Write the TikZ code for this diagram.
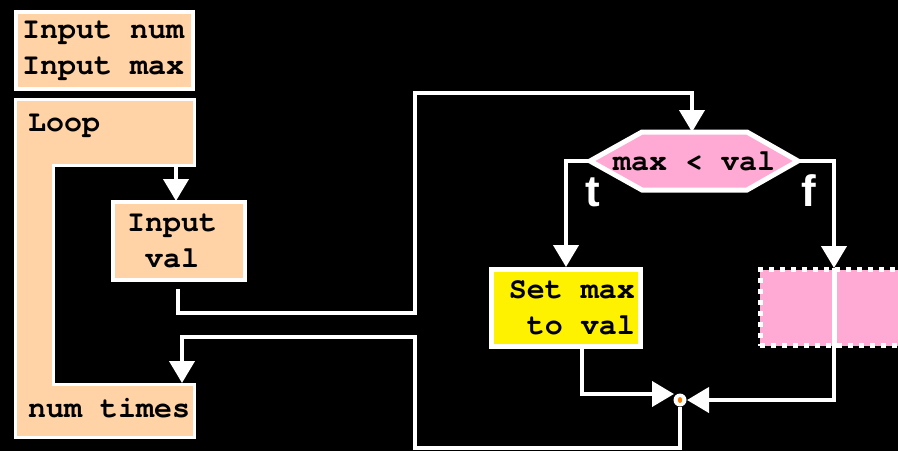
\documentclass[tikz,border=0pt]{standalone}
\usepackage{fontspec}
\setmonofont{TeX Gyre Cursor}
\setsansfont{Liberation Sans}
\usetikzlibrary{arrows.meta}
\definecolor{peach}{RGB}{255,211,165}
\definecolor{rosy}{RGB}{255,170,212}
\definecolor{dotorange}{RGB}{255,128,0}
\begin{document}
\begin{tikzpicture}[x=1pt,y=-1pt,
  code/.style={font=\ttfamily\bfseries\fontsize{30}{36}\selectfont, text=black, inner sep=0pt},
  tf/.style={font=\sffamily\bfseries\fontsize{44}{44}\selectfont, text=white, inner sep=0pt},
  peachbox/.style={draw=white, line width=4pt, fill=peach, inner sep=0pt},
  yellowbox/.style={draw=white, line width=5pt, fill=yellow, inner sep=0pt},
  pinkbox/.style={fill=rosy, inner sep=0pt,
    preaction={draw=black, line width=5pt},
    draw=white, line width=5pt, dash pattern=on 5pt off 6pt},
  conn/.style={draw=white, line width=4pt},
  arr/.style={conn, -{Triangle[width=25pt,length=22pt]}}]
\fill[black] (0,0) rectangle (898,451);
\clip (0,0) rectangle (898,451);

% initialisation block
\node[peachbox, minimum width=177pt, minimum height=77pt] (init) at (104.5,50.5) {};
\node[code, align=left, anchor=west] (initxt) at (22,51) {Input num\\Input max};

% loop bracket
\path[draw=white, line width=3pt, fill=peach]
  (15.5,99.5) -- (194,99.5) -- (194,165) -- (53,165) -- (53,384) -- (194,384)
  -- (194,437) -- (15.5,437) -- cycle;
\node[code, anchor=west] (loop) at (28,126) {Loop};
\node[code, anchor=west] (times) at (28,408) {num times};
\coordinate (loopbar) at (176,166);
\coordinate (timestop) at (182,383);

% read a value
\node[peachbox, minimum width=132pt, minimum height=78pt] (inval) at (179,241) {};
\node[code, align=center] (invaltxt) at (172,241) {Input\\val};
\coordinate (invaltop) at (176,201);
\coordinate (invalout) at (178,289);

% decision
\coordinate (hL) at (590,161);
\coordinate (hTL) at (642,132);
\coordinate (hTR) at (747,132);
\coordinate (hR) at (798,161);
\coordinate (hBR) at (747,190);
\coordinate (hBL) at (642,190);
\coordinate (hT) at (692,132);
\path[draw=white, line width=5pt, line join=miter, fill=rosy]
  (hL) -- (hTL) -- (hTR) -- (hR) -- (hBR) -- (hBL) -- cycle;
\node[code] (cond) at (694,161) {max < val};
\node[tf] (tlab) at (593,192) {t};
\node[tf] (flab) at (809,191) {f};

% branches
\node[yellowbox, minimum width=149pt, minimum height=77pt] (setmax) at (566,308) {};
\node[code, align=right, anchor=east] (setmaxtxt) at (635,308) {Set max\\to val};
\node[pinkbox, minimum width=200pt, minimum height=76pt] (fbox) at (860,307.5) {};
\coordinate (fin) at (834,268);
\coordinate (tout) at (582,349);

% junction
\node[circle, fill=white, inner sep=0pt, minimum size=13pt] (jn) at (680,400) {};
\fill[dotorange] (jn.center) ellipse (2.2pt and 3pt);
\coordinate (jl) at (674,394);
\coordinate (jr) at (687,400);
\coordinate (back1) at (415,448);
\coordinate (back2) at (415,337);
\coordinate (up1) at (415,313);
\coordinate (up2) at (415,93);

% connectors
\draw[arr] (loopbar) -- (invaltop);
\draw[arr] (invalout) |- (up1) -- (up2) -| (hT);
\draw[arr] (hL) -| (setmax.north);
\draw[arr] (hR) -| (fin);
\draw[conn, line width=5pt] (fin) -- (fbox.south -| fin);
\draw[arr] (fin) |- (jr);
\draw[arr] (tout) |- (jl);
\draw[arr] (jn.south) |- (back1) -- (back2) -| (timestop);
\end{tikzpicture}
\end{document}
